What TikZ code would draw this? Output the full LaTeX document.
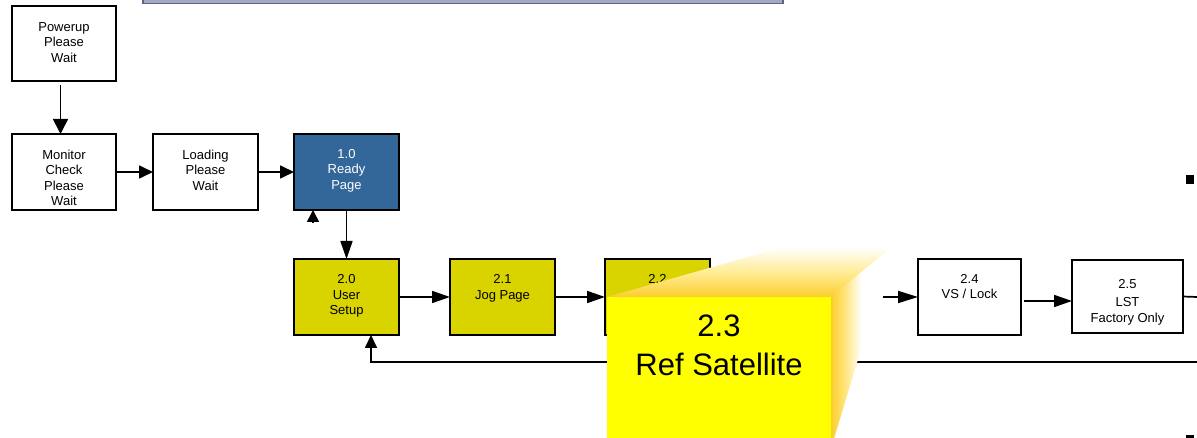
\documentclass[tikz,border=0pt]{standalone}
\usepackage{fontspec}
\setmainfont{Liberation Sans}
\usetikzlibrary{arrows.meta}
\definecolor{rdblue}{RGB}{51,102,153}
\definecolor{boxolive}{RGB}{217,211,0}
\definecolor{popyellow}{RGB}{255,255,0}
\definecolor{facegold}{RGB}{252,206,45}
\definecolor{facepale}{RGB}{255,236,150}
\definecolor{facemid}{RGB}{255,228,120}
\definecolor{bannerfill}{RGB}{164,168,192}
\definecolor{bannerdraw}{RGB}{96,100,130}
\pgfdeclarehorizontalshading{rface}{100bp}{color(0bp)=(facegold); color(25bp)=(facegold); color(36bp)=(facemid); color(50bp)=(white); color(100bp)=(white)}
\begin{document}
\begin{tikzpicture}[x=1pt,y=-1pt,
  box/.style={draw, line width=1.8pt, inner sep=0pt, outer sep=0pt, anchor=north west},
  txt/.style={font=\fontsize{13}{15.5}\selectfont, align=center, inner sep=0pt, anchor=north},
  arr/.style={line width=1.7pt, -{Triangle[length=14pt,width=13pt]}},
  arrlong/.style={line width=1.7pt, -{Triangle[length=18pt,width=12pt]}},
  ln/.style={line width=1.7pt},
  bigtxt/.style={font=\fontsize{31}{39}\selectfont, align=center, inner sep=0pt, anchor=north}]
\useasboundingbox (0,0) rectangle (1197,438);

% banner at the top
\draw[fill=bannerfill, draw=bannerdraw, line width=1.2pt] (143,-5) rectangle (783,3.5);

% boxes
\node[box, minimum width=104, minimum height=75] (pw) at (12,6) {};
\node[box, minimum width=104, minimum height=76] (mc) at (12,134) {};
\node[box, minimum width=105, minimum height=76] (ld) at (153,134) {};
\node[box, fill=rdblue, minimum width=105, minimum height=76] (rd) at (294,134) {};
\node[box, fill=boxolive, minimum width=105, minimum height=76] (us) at (294,259) {};
\node[box, fill=boxolive, minimum width=105, minimum height=76] (jg) at (450,259) {};
\node[box, fill=boxolive, minimum width=105, minimum height=76] (b22) at (605,259) {};
\node[box, minimum width=103, minimum height=76] (b24) at (918,259) {};
\node[box, minimum width=111, minimum height=73] (b25) at (1072,260) {};

% texts
\node[txt] (pwt) at ([yshift=-16]pw.north) {Powerup\\Please\\Wait};
\node[txt] (mct) at ([yshift=-15.5]mc.north) {Monitor\\Check\\Please\\Wait};
\node[txt] (ldt) at ([yshift=-15.5]ld.north) {Loading\\Please\\Wait};
\node[txt, text=white] (rdt) at ([yshift=-15]rd.north) {1.0\\Ready\\Page};
\node[txt] (ust) at ([yshift=-15.5]us.north) {2.0\\User\\Setup};
\node[txt] (jgt) at ([yshift=-15.5]jg.north) {2.1\\Jog Page};
\node[txt] (t22) at ([yshift=-15.5]b22.north) {2.2};
\node[txt] (t24) at ([yshift=-15]b24.north) {2.4\\VS / Lock};
\node[txt] (t25) at ([yshift=-19]b25.north) {2.5\\[3pt]LST\\Factory Only};

% connectors
\draw[line width=1.7pt, -{Triangle[length=15pt,width=15pt]}] ([xshift=-3.5,yshift=-4]pw.south) -- ([xshift=-3.5]mc.north);
\draw[arr] (mc.east) -- (ld.west);
\draw[arr] (ld.east) -- (rd.west);
\draw[arrlong] (rd.south) -- (us.north);
\coordinate (rdin) at ([xshift=-33.5]rd.south);
\draw[line width=1.7pt, -{Triangle[length=12pt,width=12pt]}] ([yshift=-12]rdin) -- (rdin);
\draw[arrlong] (us.east) -- (jg.west);
\draw[arrlong] (jg.east) -- (b22.west);
\coordinate (s23) at (883,297);
\draw[line width=1.7pt, -{Triangle[length=20pt,width=12pt]}] (s23) -- (b24.west);
\draw[arrlong] ([xshift=3,yshift=-4]b24.east) -- ([yshift=-4.5]b25.west);
\coordinate (e25) at (1197,297);
\draw[ln] (b25.east) -- (e25);
\coordinate (fb) at (1197,362);
\draw[line width=1.7pt, -{Triangle[length=13pt,width=12pt]}] (fb) -| ([xshift=24.5]us.south);

% small marks on the right edge
\fill (1186,175) rectangle (1194,184);
\fill (1186,435) rectangle (1194,442);

% 2.3 pop-up box with 3D extrusion
\node[fill=popyellow, anchor=north west, minimum width=224, minimum height=145, inner sep=0pt, outer sep=0pt] (pop) at (607,297) {};
\coordinate (tbl) at (783,247);
\coordinate (tbr) at (892,247);
\coordinate (rbot) at (833,442);
\shade[top color=white, bottom color=facegold, middle color=facepale] (pop.north west) -- (pop.north east) -- (tbr) -- (tbl) -- cycle;
\shade[shading=rface] (pop.north east) -- (tbr) -- (rbot) -- (pop.south east) -- cycle;
\node[bigtxt] (popt) at ([yshift=-17.5]pop.north) {2.3\\Ref Satellite};
\end{tikzpicture}
\end{document}
